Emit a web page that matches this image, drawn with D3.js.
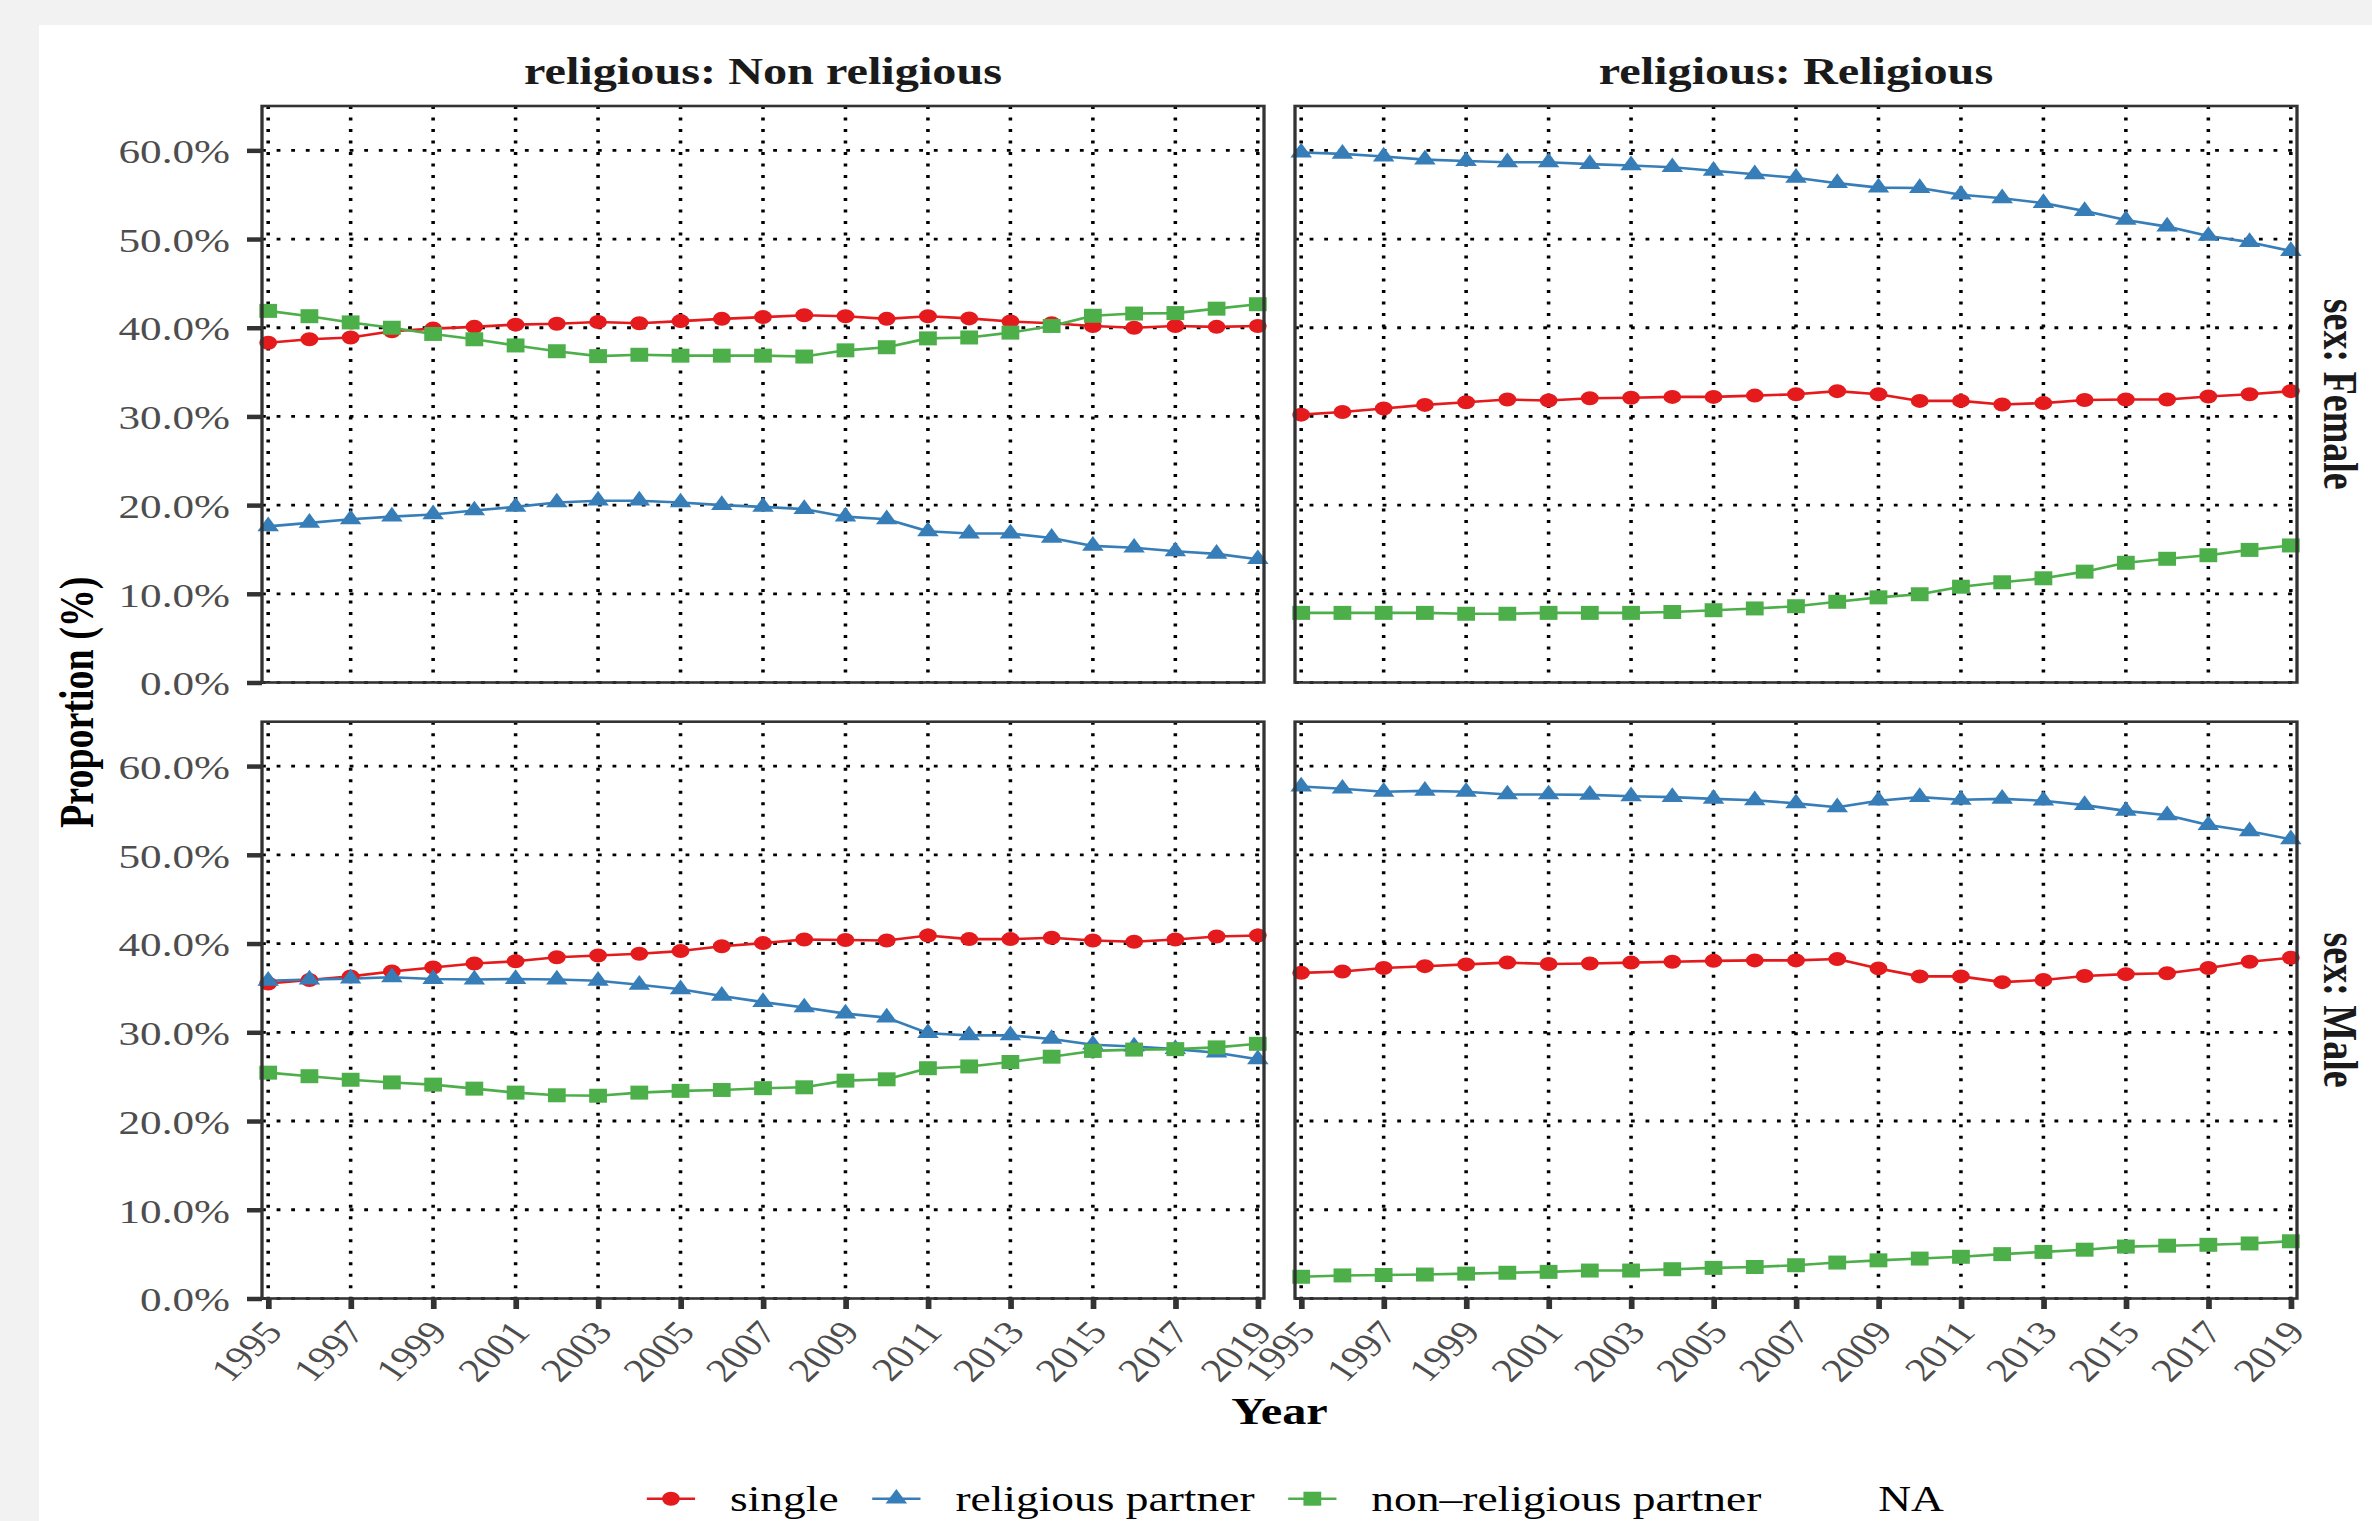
<!DOCTYPE html>
<html>
<head>
<meta charset="utf-8">
<script src="https://cdn.jsdelivr.net/npm/d3@7"></script>
<style>
  html, body { margin: 0; padding: 0; background: #f2f2f2; overflow: hidden; }
  svg { display: block; }
</style>
</head>
<body>
<svg id="chart" width="2372" height="1521"></svg>
<script>
// ---------------- DATA ----------------
const years = [1995, 1996, 1997, 1998, 1999, 2000, 2001, 2002, 2003, 2004, 2005, 2006, 2007,
               2008, 2009, 2010, 2011, 2012, 2013, 2014, 2015, 2016, 2017, 2018, 2019];
const xTickYears = [1995, 1997, 1999, 2001, 2003, 2005, 2007, 2009, 2011, 2013, 2015, 2017, 2019];
const yTicks = [0, 10, 20, 30, 40, 50, 60];
const seriesNames = ["single", "religious partner", "non\u2013religious partner", "NA"];
const seriesColors = ["#E41A1C", "#377EB8", "#4DAF4A", null];
const seriesShapes = ["circle", "triangle", "square", null];
const religiousLevels = ["religious: Non religious", "religious: Religious"];
const sexLevels = ["sex: Female", "sex: Male"];

// Non religious, Female
const nonRelFemaleSingle = [38.3, 38.7, 38.9, 39.6, 39.9, 40.1, 40.35, 40.45, 40.65, 40.5, 40.75, 41.0, 41.2,
                            41.4, 41.3, 41.0, 41.3, 41.05, 40.7, 40.5, 40.2, 40.0, 40.2, 40.1, 40.2];
const nonRelFemaleRelPartner = [17.6, 18.0, 18.4, 18.7, 18.95, 19.4, 19.8, 20.3, 20.5, 20.5, 20.3, 20.0, 19.8,
                                19.55, 18.7, 18.4, 17.05, 16.8, 16.8, 16.3, 15.4, 15.2, 14.8, 14.5, 13.9];
const nonRelFemaleNonRelPartner = [41.9, 41.3, 40.6, 40.0, 39.3, 38.7, 38.0, 37.35, 36.8, 36.95, 36.85, 36.85, 36.85,
                                   36.75, 37.45, 37.8, 38.8, 38.9, 39.45, 40.2, 41.35, 41.6, 41.65, 42.15, 42.65];
// Religious, Female
const relFemaleSingle = [30.2, 30.5, 30.9, 31.3, 31.6, 31.9, 31.8, 32.05, 32.1, 32.2, 32.2, 32.35, 32.5,
                         32.85, 32.5, 31.75, 31.75, 31.35, 31.5, 31.85, 31.9, 31.9, 32.25, 32.5, 32.85];
const relFemaleRelPartner = [59.75, 59.6, 59.3, 58.95, 58.8, 58.65, 58.65, 58.45, 58.3, 58.1, 57.7, 57.3, 56.9,
                             56.3, 55.8, 55.75, 55.0, 54.6, 54.05, 53.15, 52.15, 51.4, 50.35, 49.65, 48.65];
const relFemaleNonRelPartner = [7.85, 7.85, 7.85, 7.85, 7.75, 7.75, 7.85, 7.85, 7.85, 7.95, 8.15, 8.35, 8.6,
                                9.1, 9.6, 9.95, 10.8, 11.3, 11.75, 12.5, 13.5, 13.95, 14.35, 14.95, 15.45];
// Non religious, Male
const nonRelMaleSingle = [35.5, 35.9, 36.3, 36.85, 37.3, 37.75, 38.0, 38.45, 38.65, 38.85, 39.15, 39.7, 40.05,
                          40.45, 40.4, 40.35, 40.9, 40.5, 40.5, 40.65, 40.35, 40.2, 40.45, 40.8, 40.9];
const nonRelMaleRelPartner = [35.8, 35.95, 36.05, 36.2, 36.0, 35.95, 36.0, 35.95, 35.8, 35.35, 34.85, 34.1, 33.4,
                              32.8, 32.1, 31.65, 29.9, 29.65, 29.65, 29.25, 28.6, 28.4, 28.1, 27.7, 26.95];
const nonRelMaleNonRelPartner = [25.45, 25.05, 24.65, 24.35, 24.1, 23.65, 23.2, 22.9, 22.85, 23.2, 23.4, 23.5, 23.7,
                                 23.8, 24.55, 24.7, 25.95, 26.15, 26.65, 27.25, 27.9, 28.05, 28.1, 28.3, 28.7];
// Religious, Male
const relMaleSingle = [36.7, 36.85, 37.25, 37.45, 37.65, 37.85, 37.7, 37.75, 37.85, 37.95, 38.05, 38.1, 38.1,
                       38.25, 37.2, 36.3, 36.3, 35.65, 35.9, 36.35, 36.55, 36.65, 37.25, 37.95, 38.4];
const relMaleRelPartner = [57.7, 57.45, 57.1, 57.2, 57.1, 56.8, 56.8, 56.75, 56.6, 56.5, 56.3, 56.15, 55.8,
                           55.35, 56.1, 56.5, 56.2, 56.3, 56.1, 55.6, 54.95, 54.45, 53.35, 52.65, 51.75];
const relMaleNonRelPartner = [2.45, 2.6, 2.65, 2.7, 2.8, 2.9, 3.0, 3.15, 3.15, 3.3, 3.45, 3.55, 3.75,
                              4.05, 4.3, 4.5, 4.7, 5.0, 5.25, 5.5, 5.85, 5.95, 6.05, 6.2, 6.45];

// ---------------- LAYOUT ----------------
const S = 1.27;              // horizontal stretch of the whole picture
const W = 2372 / S, H = 1521;
const FONT = "'Liberation Serif', 'Times New Roman', Times, serif";

const svg = d3.select("#chart")
  .attr("viewBox", `0 0 ${W} ${H}`)
  .attr("preserveAspectRatio", "none");

svg.append("rect").attr("width", W).attr("height", H).attr("fill", "#f2f2f2");
svg.append("rect").attr("x", 39 / S).attr("y", 25).attr("width", W).attr("height", H).attr("fill", "#ffffff");

const colX = [[262 / S, 1264 / S], [1295 / S, 2297 / S]];
const rowY = [[106, 682.5], [721.7, 1298.5]];

const panels = [
  { r: 0, c: 0, data: [nonRelFemaleSingle, nonRelFemaleRelPartner, nonRelFemaleNonRelPartner] },
  { r: 0, c: 1, data: [relFemaleSingle, relFemaleRelPartner, relFemaleNonRelPartner] },
  { r: 1, c: 0, data: [nonRelMaleSingle, nonRelMaleRelPartner, nonRelMaleNonRelPartner] },
  { r: 1, c: 1, data: [relMaleSingle, relMaleRelPartner, relMaleNonRelPartner] }
];

const circleR = 7;
const triSym = d3.symbol().type(d3.symbolTriangle).size(125);
const sqSym = d3.symbol().type(d3.symbolSquare).size(196);

function drawMarker(g, shape, color, cx, cy) {
  if (shape === "circle") {
    g.append("circle").attr("cx", cx).attr("cy", cy).attr("r", circleR).attr("fill", color);
  } else if (shape === "triangle") {
    g.append("path").attr("d", triSym()).attr("transform", `translate(${cx},${cy})`).attr("fill", color);
  } else if (shape === "square") {
    g.append("path").attr("d", sqSym()).attr("transform", `translate(${cx},${cy})`).attr("fill", color);
  }
}

panels.forEach(p => {
  const [x0, x1] = colX[p.c];
  const [y0, y1] = rowY[p.r];
  const x = d3.scaleLinear().domain([1994.85, 2019.15]).range([x0, x1]);
  const y = d3.scaleLinear().domain([0, 65]).range([y1, y0]);
  const g = svg.append("g");

  g.append("rect").attr("x", x0).attr("y", y0).attr("width", x1 - x0).attr("height", y1 - y0).attr("fill", "#fff");

  // grid
  const grid = g.append("g").attr("stroke", "#000").attr("stroke-width", 2.8).attr("stroke-dasharray", "3,8.5");
  grid.selectAll("line.v").data(xTickYears).join("line")
    .attr("x1", d => x(d)).attr("x2", d => x(d)).attr("y1", y0).attr("y2", y1);
  grid.selectAll("line.h").data(yTicks).join("line")
    .attr("x1", x0).attr("x2", x1).attr("y1", d => y(d)).attr("y2", d => y(d));

  // lines
  const line = d3.line().x((d, i) => x(years[i])).y(d => y(d));
  p.data.forEach((vals, si) => {
    g.append("path").attr("d", line(vals)).attr("fill", "none")
      .attr("stroke", seriesColors[si]).attr("stroke-width", 2.6).attr("stroke-linejoin", "round");
  });
  // points
  p.data.forEach((vals, si) => {
    vals.forEach((v, i) => drawMarker(g, seriesShapes[si], seriesColors[si], x(years[i]), y(v)));
  });

  // border
  g.append("rect").attr("x", x0).attr("y", y0).attr("width", x1 - x0).attr("height", y1 - y0)
    .attr("fill", "none").attr("stroke", "#333").attr("stroke-width", 2.6);

  // y axis
  if (p.c === 0) {
    const ax = svg.append("g").attr("transform", `translate(${x0},0)`)
      .call(d3.axisLeft(y).tickValues(yTicks).tickSize(11.8).tickPadding(13.4)
        .tickFormat(d => d.toFixed(1) + "%"));
    ax.select(".domain").remove();
    ax.selectAll(".tick line").attr("stroke", "#333").attr("stroke-width", 4.5);
    ax.selectAll(".tick text").attr("fill", "#4d4d4d").attr("font-family", FONT)
      .attr("font-size", 34).attr("dy", "0.36em");
  }
  // x axis
  if (p.r === 1) {
    const ax = svg.append("g").attr("transform", `translate(0,${y1})`)
      .call(d3.axisBottom(x).tickValues(xTickYears).tickSize(10.5).tickFormat(d3.format("d")));
    ax.select(".domain").remove();
    ax.selectAll(".tick line").attr("stroke", "#333").attr("stroke-width", 4.5);
    ax.selectAll(".tick text").attr("fill", "#4d4d4d").attr("font-family", FONT)
      .attr("font-size", 33).attr("x", 0).attr("y", 0).attr("dy", "0.71em")
      .attr("text-anchor", "end")
      .attr("transform", "translate(-6,19.5) rotate(-50)");
  }
});

// strip labels
religiousLevels.forEach((lab, c) => {
  svg.append("text").attr("x", (colX[c][0] + colX[c][1]) / 2).attr("y", 84)
    .attr("text-anchor", "middle").attr("font-family", FONT).attr("font-weight", "bold")
    .attr("font-size", 38).attr("fill", "#1a1a1a").text(lab);
});
sexLevels.forEach((lab, r) => {
  const cy = (rowY[r][0] + rowY[r][1]) / 2;
  svg.append("text").attr("transform", `translate(${2324 / S},${cy}) rotate(90)`)
    .attr("text-anchor", "middle").attr("font-family", FONT).attr("font-weight", "bold")
    .attr("font-size", 38).attr("fill", "#1a1a1a").text(lab);
});

// axis titles
svg.append("text").attr("x", (colX[0][0] + colX[1][1]) / 2).attr("y", 1424)
  .attr("text-anchor", "middle").attr("font-family", FONT).attr("font-weight", "bold")
  .attr("font-size", 38).attr("fill", "#000").text("Year");
svg.append("text").attr("transform", `translate(${92.5 / S},${(rowY[0][0] + rowY[1][1]) / 2}) rotate(-90)`)
  .attr("text-anchor", "middle").attr("font-family", FONT).attr("font-weight", "bold")
  .attr("font-size", 38).attr("fill", "#000").text("Proportion (%)");

// legend
const legY = 1498.7;
let kx = 509.3;
const keyW = 38;
const leg = svg.append("g");
seriesNames.forEach((name, i) => {
  const kc = kx + keyW / 2;
  if (seriesColors[i]) {
    leg.append("line").attr("x1", kx).attr("x2", kx + keyW).attr("y1", legY).attr("y2", legY)
      .attr("stroke", seriesColors[i]).attr("stroke-width", 2.6);
    drawMarker(leg, seriesShapes[i], seriesColors[i], kc, legY);
  }
  const t = leg.append("text").attr("x", kc + 46.5).attr("y", legY).attr("dy", "0.35em")
    .attr("font-family", FONT).attr("font-size", 35.8).attr("fill", "#000").text(name);
  const tw = t.node().getComputedTextLength();
  kx = kc + 46.5 + tw + 26.5;
});
</script>
</body>
</html>
